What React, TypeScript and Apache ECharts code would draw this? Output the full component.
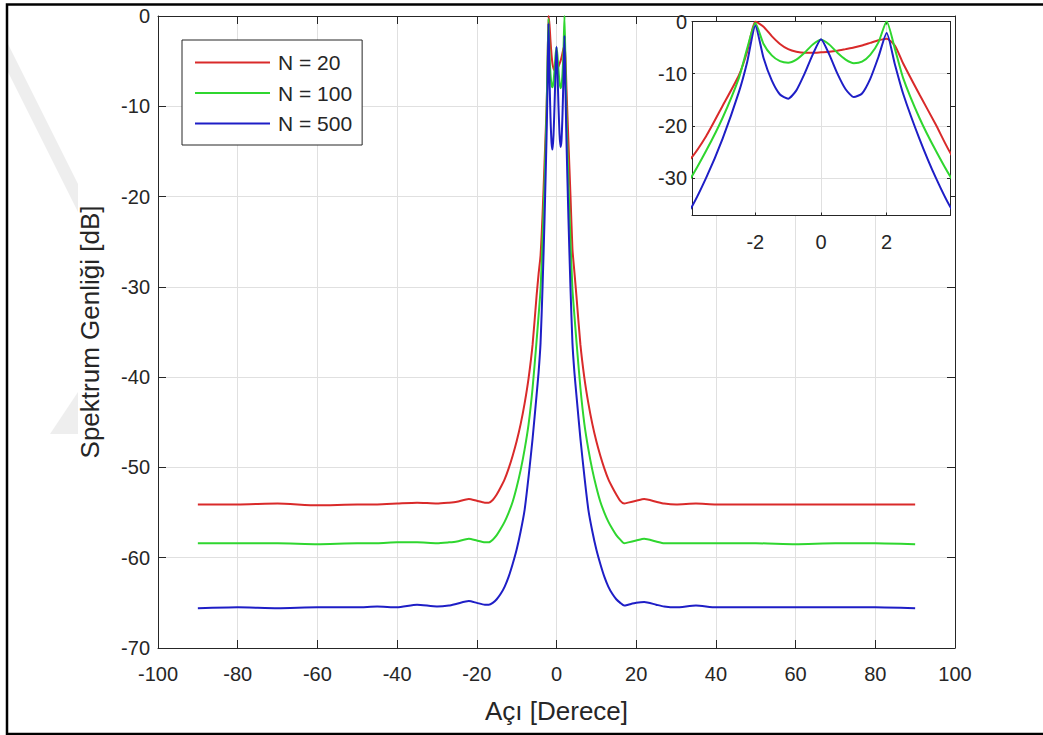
import React, { useEffect, useRef } from "react";
import * as echarts from "echarts";

// Angle samples (degrees)
const ANGLES = [
  -90, -80, -70, -60, -50, -45, -40, -35, -30, -27, -25, -22, -20, -18, -17, -16, -15, -14, -13, -12, -11, -10, -9, -8, -7, -6, -5, -4.5, -4, -3.5, -3, -2.5, -2.25,
  -2, -1.75, -1.5, -1.25, -1, -0.75, -0.5, -0.25, 0, 0.25, 0.5, 0.75, 1, 1.25, 1.5, 1.75, 2,
  2.25, 2.5, 3, 3.5, 4, 4.5, 5, 6, 7, 8, 9, 10, 11, 12, 13, 14, 15, 16, 17, 18, 20, 22, 25, 27, 30, 35, 40, 45, 50, 60, 70, 80, 90,
];

// Spectrum amplitude [dB], N = 20
const N20 = [
  -54.1, -54.1, -54.0, -54.2, -54.1, -54.1, -54.0, -53.9, -54.0, -53.9, -53.8, -53.5, -53.7, -53.9, -53.9, -53.6, -53.0, -52.2, -51.3, -50.1, -48.7, -47.1, -45.2, -42.9, -40.1, -36.4, -31.0, -28.6, -26.5, -22.0, -16.2, -10.3, -5.8,
  0, -1.0, -2.8, -4.3, -5.3, -5.8, -6.0, -6.0, -5.9, -5.8, -5.6, -5.3, -5.0, -4.6, -4.1, -3.6, -3.3,
  -4.6, -8.0, -14.0, -19.8, -25.8, -28.4, -31.0, -36.4, -40.1, -42.9, -45.2, -47.1, -48.7, -50.1, -51.3, -52.2, -53.0, -53.7, -54.0, -53.9, -53.7, -53.5, -53.8, -54.0, -54.1, -54.0, -54.1, -54.1, -54.1, -54.1, -54.1, -54.1, -54.1,
];

// Spectrum amplitude [dB], N = 100
const N100 = [
  -58.4, -58.4, -58.4, -58.5, -58.4, -58.4, -58.3, -58.3, -58.4, -58.3, -58.2, -57.9, -58.1, -58.3, -58.3, -58.0, -57.5, -56.8, -56.0, -55.0, -53.8, -52.2, -50.3, -48.0, -45.2, -41.2, -36.0, -33.2, -30.3, -24.8, -18.5, -10.8, -5.2,
  -0.3, -4.3, -6.5, -7.6, -7.9, -7.3, -6.0, -4.4, -3.5, -4.4, -6.0, -7.3, -8.0, -7.7, -6.4, -4.0, 0,
  -5.2, -10.8, -18.5, -24.8, -30.3, -33.2, -36.0, -41.2, -45.2, -48.0, -50.3, -52.2, -53.8, -55.0, -56.0, -56.8, -57.5, -58.0, -58.4, -58.3, -58.1, -57.9, -58.2, -58.4, -58.4, -58.4, -58.4, -58.4, -58.4, -58.5, -58.4, -58.4, -58.5,
];

// Spectrum amplitude [dB], N = 500
const N500 = [
  -65.6, -65.5, -65.6, -65.5, -65.5, -65.4, -65.5, -65.2, -65.4, -65.3, -65.1, -64.8, -65.0, -65.2, -65.2, -65.0, -64.6, -64.0, -63.2, -62.1, -60.7, -59.1, -57.1, -54.7, -51.0, -46.8, -42.0, -39.5, -36.2, -30.0, -22.5, -13.5, -7.8,
  -0.8, -7.0, -11.3, -14.0, -14.8, -13.2, -10.0, -6.3, -3.4, -6.3, -10.0, -13.0, -14.5, -13.8, -11.0, -6.8, -2.2,
  -8.2, -13.8, -22.5, -30.0, -36.2, -39.5, -42.0, -46.8, -51.0, -54.7, -57.1, -59.1, -60.7, -62.1, -63.2, -64.0, -64.6, -65.0, -65.3, -65.2, -65.0, -64.9, -65.2, -65.4, -65.5, -65.3, -65.5, -65.5, -65.5, -65.5, -65.5, -65.5, -65.6,
];

const SERIES_NAMES = ["N = 20", "N = 100", "N = 500"];
const SERIES_VALUES = [N20, N100, N500];
const COLORS = ["#d92a2a", "#2fd62f", "#1e1ec6"];

const X_LABEL = "Açı [Derece]";
const Y_LABEL = "Spektrum Genliği [dB]";

const FONT = "'Liberation Sans', Arial, Helvetica, sans-serif";
const TXT = "#262626";
const GRID_LINE = "#e0e0e0";

function pairs(ys: number[]) {
  return ANGLES.map((a, i) => [a, ys[i]]);
}

function frameAxis(extra: any) {
  return {
    axisLine: { show: true, onZero: false, lineStyle: { color: TXT, width: 1 } },
    axisLabel: { show: false },
    splitLine: { show: false },
    ...extra,
  };
}

export default function App() {
  const ref = useRef<HTMLDivElement>(null);

  useEffect(() => {
    if (!ref.current) return;
    const chart = echarts.init(ref.current, null, { renderer: "svg" });

    const labelStyle = { color: TXT, fontSize: 20, fontFamily: FONT, lineHeight: 20 };

    const mainSeries = SERIES_NAMES.map((name, i) => ({
      type: "line",
      name,
      data: pairs(SERIES_VALUES[i]),
      xAxisIndex: 0,
      yAxisIndex: 0,
      symbol: "none",
      smooth: 0.2,
      lineStyle: { color: COLORS[i], width: 2 },
      itemStyle: { color: COLORS[i] },
      z: 2,
    }));

    const insetSeries = SERIES_NAMES.map((name, i) => ({
      type: "line",
      name,
      data: pairs(SERIES_VALUES[i]),
      xAxisIndex: 2,
      yAxisIndex: 2,
      symbol: "none",
      smooth: 0.2,
      lineStyle: { color: COLORS[i], width: 2 },
      itemStyle: { color: COLORS[i] },
      z: 7,
    }));

    const option: any = {
      animation: false,
      backgroundColor: "#ffffff",
      textStyle: { fontFamily: FONT },
      graphic: [
        {
          type: "polygon",
          z: -1,
          silent: true,
          shape: { points: [[8, 44], [8, 72], [78, 212], [78, 184]] },
          style: { fill: "#eeeeee" },
        },
        {
          type: "polygon",
          z: -1,
          silent: true,
          shape: { points: [[50, 434], [78, 392], [78, 434]] },
          style: { fill: "#eeeeee" },
        },
        {
          type: "rect",
          z: 100,
          silent: true,
          shape: { x: 7, y: 4.5, width: 1045, height: 729.5 },
          style: { fill: "none", stroke: "#000000", lineWidth: 2.5 },
        },
      ],
      grid: [
        { left: 158, top: 16, width: 797, height: 632, containLabel: false },
        {
          left: 692,
          top: 21.5,
          width: 258,
          height: 194,
          containLabel: false,
          show: true,
          backgroundColor: "#ffffff",
          borderWidth: 0,
          z: 4,
        },
      ],
      legend: {
        data: SERIES_NAMES,
        orient: "vertical",
        left: 182,
        top: 40,
        icon: "rect",
        itemWidth: 75,
        itemHeight: 2,
        itemGap: 9.5,
        padding: [12, 10, 11, 13],
        borderColor: TXT,
        borderWidth: 1,
        backgroundColor: "#ffffff",
        textStyle: { color: TXT, fontSize: 21, lineHeight: 20, fontFamily: FONT, padding: [0, 0, 0, 3] },
        selectedMode: false,
        z: 10,
      },
      xAxis: [
        {
          type: "value",
          gridIndex: 0,
          min: -100,
          max: 100,
          interval: 20,
          position: "bottom",
          axisLine: { show: true, onZero: false, lineStyle: { color: TXT, width: 1 } },
          axisTick: { show: true, inside: true, length: 8, lineStyle: { color: TXT } },
          axisLabel: { ...labelStyle, margin: 16 },
          splitLine: { show: true, lineStyle: { color: GRID_LINE, width: 1 } },
          name: X_LABEL,
          nameLocation: "middle",
          nameGap: 50,
          nameTextStyle: { color: TXT, fontSize: 26, fontFamily: FONT },
        },
        frameAxis({
          type: "value",
          gridIndex: 0,
          min: -100,
          max: 100,
          interval: 20,
          position: "top",
          axisTick: { show: true, inside: true, length: 8, lineStyle: { color: TXT } },
        }),
        {
          type: "value",
          gridIndex: 1,
          min: -3.93,
          max: 3.93,
          splitNumber: 4,
          position: "bottom",
          z: 5,
          axisLine: { show: true, onZero: false, lineStyle: { color: TXT, width: 1 } },
          axisTick: { show: true, inside: true, length: 3, lineStyle: { color: TXT } },
          axisLabel: { ...labelStyle, margin: 16, showMinLabel: false, showMaxLabel: false },
          splitLine: { show: true, lineStyle: { color: GRID_LINE, width: 1 } },
        },
        frameAxis({
          type: "value",
          gridIndex: 1,
          min: -3.93,
          max: 3.93,
          splitNumber: 4,
          position: "top",
          z: 5,
          axisTick: { show: true, inside: true, length: 3, lineStyle: { color: TXT } },
        }),
      ],
      yAxis: [
        {
          type: "value",
          gridIndex: 0,
          min: -70,
          max: 0,
          interval: 10,
          position: "left",
          axisLine: { show: true, onZero: false, lineStyle: { color: TXT, width: 1 } },
          axisTick: { show: true, inside: true, length: 8, lineStyle: { color: TXT } },
          axisLabel: { ...labelStyle, margin: 8 },
          splitLine: { show: true, lineStyle: { color: GRID_LINE, width: 1 } },
          name: Y_LABEL,
          nameLocation: "middle",
          nameGap: 55,
          nameTextStyle: { color: TXT, fontSize: 26, fontFamily: FONT },
        },
        frameAxis({
          type: "value",
          gridIndex: 0,
          min: -70,
          max: 0,
          interval: 10,
          position: "right",
          axisTick: { show: true, inside: true, length: 8, lineStyle: { color: TXT } },
        }),
        {
          type: "value",
          gridIndex: 1,
          min: -37.2,
          max: 0,
          splitNumber: 4,
          position: "left",
          z: 5,
          axisLine: { show: true, onZero: false, lineStyle: { color: TXT, width: 1 } },
          axisTick: { show: true, inside: true, length: 3, lineStyle: { color: TXT } },
          axisLabel: { ...labelStyle, margin: 5, showMinLabel: false },
          splitLine: { show: true, lineStyle: { color: GRID_LINE, width: 1 } },
        },
        frameAxis({
          type: "value",
          gridIndex: 1,
          min: -37.2,
          max: 0,
          splitNumber: 4,
          position: "right",
          z: 5,
          axisTick: { show: true, inside: true, length: 3, lineStyle: { color: TXT } },
        }),
      ],
      series: [...mainSeries, ...insetSeries],
    };

    chart.setOption(option);
    return () => {
      chart.dispose();
    };
  }, []);

  return (
    <div
      ref={ref}
      style={{ position: "absolute", left: 0, top: 0, width: 1043, height: 735, background: "#fff" }}
    />
  );
}
